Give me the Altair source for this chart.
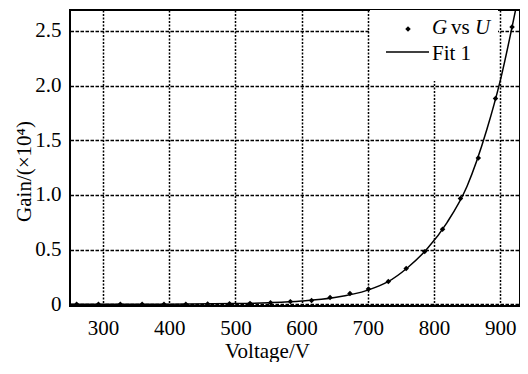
import altair as alt
import pandas as pd

# measured data (G vs U)
volts = [260, 293, 326, 359, 392, 425, 458, 491, 522, 553, 583, 615, 643, 673, 701, 731, 758, 786, 813, 840, 867, 893, 918]
gains = [0.001, 0.001, 0.001, 0.001, 0.002, 0.002, 0.003, 0.005, 0.009, 0.015, 0.025, 0.035, 0.062, 0.099, 0.141, 0.208, 0.328, 0.482, 0.687, 0.967, 1.338, 1.881, 2.534]

# fit curve
fit_v = [250, 300, 400, 500, 550, 600, 650, 700, 730, 760, 790, 820, 850, 880, 900, 925]
fit_g = [0.0, 0.0, 0.002, 0.007, 0.015, 0.03, 0.062, 0.13, 0.205, 0.335, 0.51, 0.75, 1.08, 1.6, 2.04, 2.74]

x_ticks = [300, 400, 500, 600, 700, 800, 900]
y_ticks = [0, 0.5, 1.0, 1.5, 2.0, 2.5]

pts = pd.DataFrame({"U": volts, "G": gains})
fit = pd.DataFrame({"U": fit_v, "G": fit_g})

FONT = "Liberation Serif"
FS = 21

xs = alt.Scale(domain=[250, 930], nice=False, zero=False)
ys = alt.Scale(domain=[-0.015, 2.69], nice=False, zero=False)

xaxis = alt.Axis(values=x_ticks, title="Voltage/V", grid=True, gridDash=[2, 1.5], gridColor="black",
                 gridWidth=1.5, gridOpacity=1, ticks=False, domain=False, labelPadding=11,
                 labelFont=FONT, labelFontSize=FS, labelColor="black", titleFont=FONT,
                 titleFontSize=FS, titleFontWeight="normal", titleColor="black",
                 titleX=197, titleY=51, titleBaseline="alphabetic", titleAlign="center")
yaxis = alt.Axis(values=y_ticks, title="Gain/(×10⁴)", grid=True, gridDash=[3.5, 1.5], gridColor="black",
                 gridWidth=1.5, gridOpacity=1, ticks=False, domain=False, labelPadding=9,
                 labelFont=FONT, labelFontSize=FS, labelColor="black", titleFont=FONT,
                 titleFontSize=FS, titleFontWeight="normal", titleColor="black",
                 titleX=-40, titleY=161, titleBaseline="alphabetic", titleAlign="center", titleAngle=-90,
                 labelExpr="datum.value == 0 ? '0' : format(datum.value, '.1f')")

fit_line = alt.Chart(fit).mark_line(color="black", strokeWidth=1.5, interpolate="monotone", clip=True).encode(
    x=alt.X("U:Q", scale=xs, axis=xaxis),
    y=alt.Y("G:Q", scale=ys, axis=yaxis),
)

points = alt.Chart(pts).mark_point(filled=True, color="black", size=30, shape="diamond", opacity=1).encode(
    x=alt.X("U:Q", scale=xs),
    y=alt.Y("G:Q", scale=ys),
)

# legend
leg_bg = alt.Chart(pd.DataFrame({"a": [0]})).mark_rect(color="white").encode(
    x=alt.value(300), x2=alt.value(428), y=alt.value(0), y2=alt.value(71))
leg_dot = alt.Chart(pd.DataFrame({"a": [0]})).mark_point(filled=True, color="black", size=30, shape="diamond", opacity=1).encode(
    x=alt.value(338), y=alt.value(19))
leg_line = alt.Chart(pd.DataFrame({"a": [0]})).mark_rule(color="black", strokeWidth=1.5).encode(
    x=alt.value(316), x2=alt.value(359), y=alt.value(42))
leg_items = pd.DataFrame({
    "t": ["G", "vs", "U", "Fit 1"],
    "x": [362, 381, 405, 362],
    "y": [24, 24, 24, 50],
    "s": ["italic", "normal", "italic", "normal"],
})
leg_text = []
for _, r in leg_items.iterrows():
    leg_text.append(alt.Chart(pd.DataFrame({"t": [r["t"]]})).mark_text(
        font=FONT, fontSize=FS, fontStyle=r["s"], align="left", baseline="alphabetic", color="black").encode(
        x=alt.value(int(r["x"])), y=alt.value(int(r["y"])), text="t:N"))

chart = alt.layer(fit_line, leg_bg, points, leg_dot, leg_line, *leg_text).properties(
    width=450, height=296,
    padding={"left": 62, "top": 2, "right": 0, "bottom": 56},
    autosize="none",
).configure_view(stroke="black", strokeWidth=2)

chart.save("out.html", embed_options={"renderer": "svg", "actions": False})
